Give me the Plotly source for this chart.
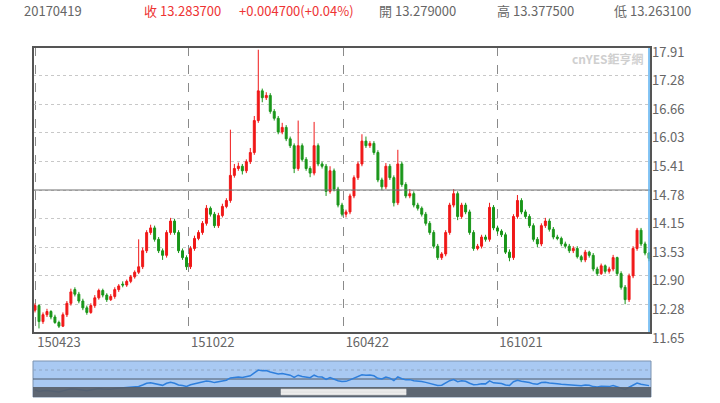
import pandas as pd
import plotly.graph_objects as go

# bar data (one bar ~ every 3 trading days)
bar_open = [12.15, 12.25, 11.9, 12.05, 12.12, 12.0, 11.88, 11.8, 12.05, 12.3, 12.6, 12.5, 12.35, 12.2, 12.1, 12.25, 12.42, 12.58, 12.48, 12.38,
            12.45, 12.6, 12.72, 12.7, 12.78, 12.88, 12.98, 13.1, 13.45, 13.85, 13.95, 13.7, 13.45, 13.35, 13.85, 14.1, 13.85, 13.45, 13.3, 13.1,
            13.5, 13.72, 13.85, 14.05, 14.38, 14.25, 14.0, 14.22, 14.42, 14.55, 15.1, 15.25, 15.3, 15.2, 15.4, 15.6, 16.3, 16.95, 16.8, 16.85,
            16.5, 16.35, 16.05, 16.15, 15.9, 15.75, 15.25, 15.75, 15.45, 15.25, 15.15, 15.75, 15.35, 15.3, 14.75, 15.2, 14.8, 14.45, 14.25, 14.3,
            14.65, 15.05, 15.35, 15.85, 15.75, 15.8, 15.6, 15.0, 14.85, 15.3, 15.05, 14.5, 15.35, 14.9, 14.65, 14.7, 14.45, 14.38, 14.25, 14.05,
            13.85, 13.55, 13.3, 13.38, 13.85, 14.45, 14.7, 14.2, 14.45, 14.3, 13.85, 13.5, 13.55, 13.75, 13.7, 14.4, 13.95, 13.88, 13.8, 13.42,
            13.3, 14.2, 14.55, 14.3, 14.2, 14.0, 13.7, 13.6, 14.0, 14.1, 13.92, 13.75, 13.72, 13.6, 13.55, 13.45, 13.5, 13.32, 13.25, 13.42,
            13.35, 13.05, 12.95, 13.12, 13.0, 13.05, 13.3, 12.95, 12.65, 12.38, 12.9, 13.5, 13.9, 13.6, 13.4]
bar_high = [12.3, 12.28, 12.1, 12.18, 12.15, 12.05, 11.92, 12.1, 12.35, 12.62, 12.65, 12.55, 12.4, 12.25, 12.3, 12.48, 12.62, 12.62, 12.52, 12.5,
            12.65, 12.72, 12.78, 12.82, 12.92, 13.02, 13.7, 13.52, 13.9, 14.02, 14.0, 13.75, 13.5, 13.9, 14.17, 14.15, 13.9, 13.5, 13.35, 13.55,
            13.78, 13.9, 14.1, 14.45, 14.42, 14.3, 14.28, 14.48, 14.6, 16.1, 15.35, 15.38, 15.35, 15.45, 15.7, 16.4, 17.85, 17.0, 16.92, 16.9,
            16.55, 16.4, 16.25, 16.2, 15.95, 15.8, 16.3, 15.8, 15.5, 15.3, 16.27, 15.8, 15.4, 15.35, 15.3, 15.25, 14.85, 14.5, 14.35, 14.7,
            15.1, 15.4, 16.0, 15.95, 15.85, 15.85, 15.65, 15.05, 15.37, 15.35, 15.1, 15.66, 15.4, 14.95, 14.8, 14.75, 14.5, 14.42, 14.3, 14.1,
            13.9, 13.6, 13.42, 13.9, 14.5, 14.8, 14.75, 14.5, 14.5, 14.35, 13.9, 13.6, 13.8, 13.8, 14.5, 14.45, 14.0, 13.92, 13.85, 13.48,
            14.25, 14.67, 14.6, 14.35, 14.25, 14.05, 13.75, 14.05, 14.17, 14.15, 13.97, 13.8, 13.76, 13.65, 13.6, 13.55, 13.55, 13.36, 13.47, 13.45,
            13.4, 13.1, 13.17, 13.15, 13.1, 13.36, 13.32, 13.0, 12.7, 12.95, 13.55, 13.95, 13.95, 13.65, 13.42]
bar_low = [12.1, 11.75, 11.85, 12.0, 11.95, 11.85, 11.76, 11.78, 12.0, 12.25, 12.45, 12.3, 12.15, 12.05, 12.07, 12.2, 12.38, 12.43, 12.33, 12.35,
           12.4, 12.55, 12.65, 12.66, 12.74, 12.84, 12.94, 13.05, 13.4, 13.8, 13.65, 13.4, 13.25, 13.3, 13.8, 13.8, 13.4, 13.25, 13.03, 13.05,
           13.45, 13.68, 13.8, 14.0, 14.2, 13.95, 13.95, 14.18, 14.38, 14.5, 15.05, 15.2, 15.12, 15.15, 15.35, 15.55, 16.25, 16.7, 16.75, 16.45,
           16.3, 16.0, 16.0, 15.85, 15.7, 15.15, 15.2, 15.4, 15.2, 15.06, 15.1, 15.3, 15.25, 14.65, 14.7, 14.75, 14.4, 14.2, 14.18, 14.25,
           14.6, 15.0, 15.3, 15.7, 15.7, 15.55, 14.95, 14.78, 14.8, 15.0, 14.42, 14.45, 14.85, 14.6, 14.6, 14.4, 14.33, 14.2, 14.0, 13.8,
           13.5, 13.25, 13.25, 13.33, 13.8, 14.4, 14.12, 14.15, 14.25, 13.8, 13.45, 13.46, 13.5, 13.65, 13.65, 13.9, 13.82, 13.75, 13.38, 13.22,
           13.25, 14.15, 14.25, 14.15, 13.95, 13.65, 13.53, 13.55, 13.95, 13.87, 13.7, 13.68, 13.55, 13.5, 13.4, 13.4, 13.28, 13.2, 13.2, 13.3,
           13.0, 12.9, 12.92, 12.95, 12.95, 13.0, 12.9, 12.6, 12.28, 12.33, 12.85, 13.45, 13.55, 13.35, 13.22]
bar_close = [12.25, 11.9, 12.05, 12.12, 12.0, 11.88, 11.8, 12.05, 12.3, 12.55, 12.5, 12.35, 12.2, 12.1, 12.25, 12.42, 12.58, 12.48, 12.38, 12.45,
             12.6, 12.68, 12.7, 12.78, 12.88, 12.98, 13.1, 13.45, 13.85, 13.95, 13.7, 13.45, 13.35, 13.85, 14.1, 13.85, 13.45, 13.3, 13.1, 13.5,
             13.72, 13.85, 14.05, 14.38, 14.25, 14.0, 14.22, 14.42, 14.55, 15.1, 15.25, 15.3, 15.2, 15.4, 15.6, 16.3, 16.95, 16.8, 16.85, 16.5,
             16.35, 16.05, 16.15, 15.9, 15.75, 15.25, 15.75, 15.45, 15.25, 15.15, 15.75, 15.35, 15.3, 14.75, 15.2, 14.8, 14.45, 14.25, 14.3, 14.65,
             15.05, 15.35, 15.85, 15.75, 15.8, 15.6, 15.0, 14.85, 15.3, 15.05, 14.5, 15.35, 14.9, 14.65, 14.7, 14.45, 14.38, 14.25, 14.05, 13.85,
             13.55, 13.3, 13.38, 13.85, 14.45, 14.7, 14.2, 14.45, 14.3, 13.85, 13.5, 13.55, 13.75, 13.7, 14.4, 13.95, 13.88, 13.8, 13.42, 13.3,
             14.2, 14.55, 14.3, 14.2, 14.0, 13.7, 13.6, 14.0, 14.1, 13.92, 13.75, 13.72, 13.6, 13.55, 13.45, 13.5, 13.32, 13.25, 13.42, 13.35,
             13.05, 12.95, 13.12, 13.0, 13.05, 13.3, 12.95, 12.65, 12.38, 12.9, 13.5, 13.9, 13.6, 13.4, 13.2837]

first_day, last_day = "2015-04-23", "2017-04-19"
tick_days = ["2015-04-23", "2015-10-22", "2016-04-22", "2016-10-21"]
tick_text = ["150423", "151022", "160422", "161021"]
price_ticks = [11.65, 12.28, 12.90, 13.53, 14.15, 14.78, 15.41, 16.03, 16.66, 17.28, 17.91]

header = [("20170419", "#666666"), ("收 13.283700", "#ee3333"), ("+0.004700(+0.04%)", "#ee3333"),
          ("開 13.279000", "#666666"), ("高 13.377500", "#666666"), ("低 13.263100", "#666666")]
header_x = [22, 142, 237, 377, 495, 612]

dates = pd.date_range(first_day, last_day, periods=len(bar_close))
x_range = ["2015-04-20 15:00", "2017-04-21 08:00"]
FONT = "Noto Sans CJK TC, Noto Sans, sans-serif"

fig = go.Figure()
fig.add_trace(go.Candlestick(
    x=dates, open=bar_open, high=bar_high, low=bar_low, close=bar_close,
    increasing=dict(line=dict(color="#f01818", width=1), fillcolor="#f01818"),
    decreasing=dict(line=dict(color="#1a961a", width=1), fillcolor="#1a961a"),
    whiskerwidth=0, showlegend=False, hoverinfo="skip",
    xaxis="x", yaxis="y",
))
# navigator line
fig.add_trace(go.Scatter(x=dates, y=bar_close, mode="lines", line=dict(color="#2f7fdc", width=1.5),
                         showlegend=False, hoverinfo="skip", xaxis="x2", yaxis="y2"))

fig.update_layout(
    width=720, height=403,
    margin=dict(l=33, r=69, t=47, b=6, autoexpand=False),
    paper_bgcolor="white", plot_bgcolor="white",
    font=dict(family=FONT, size=12, color="#666666"),
    xaxis=dict(domain=[0, 1], range=x_range, type="date", anchor="y", automargin=False,
               tickvals=tick_days, ticktext=tick_text, ticklabelshift=24, ticklabelstandoff=0,
               showgrid=True, gridcolor="#8a8a8a", griddash="dash", gridwidth=1,
               zeroline=False, showline=False, ticks="", rangeslider=dict(visible=False),
               tickfont=dict(size=13, color="#666666")),
    yaxis=dict(domain=[64 / 350, 1], range=[11.65, 17.91], side="right", anchor="x", automargin=False,
               tickvals=price_ticks, ticktext=[f"{v:.2f}" for v in price_ticks], ticklabelshift=5,
               showgrid=True, gridcolor="#c8c8c8", griddash="dot", gridwidth=1,
               zeroline=False, ticks="", tickfont=dict(size=13, color="#666666")),
    xaxis2=dict(domain=[0, 1], range=x_range, type="date", anchor="y2", visible=False, automargin=False),
    yaxis2=dict(domain=[0, 36 / 350], range=[10.6, 19.1], anchor="x2", visible=False, automargin=False),
)

shapes = [
    # navigator background
    dict(type="rect", xref="x2 domain", yref="y2 domain", x0=0, x1=1, y0=0, y1=1,
         fillcolor="#a9c9f2", line=dict(color="#7c93b0", width=1), layer="below"),
    dict(type="line", xref="x2 domain", yref="y2 domain", x0=0, x1=1, y0=0.75, y1=0.75,
         line=dict(color="#8fa6c4", width=1, dash="dot"), layer="below"),
    dict(type="line", xref="x2 domain", yref="y2 domain", x0=0, x1=1, y0=0.5, y1=0.5,
         line=dict(color="#4f5b6b", width=1), layer="below"),
    # scrollbar band
    dict(type="rect", xref="x2 domain", yref="y2 domain", x0=0, x1=1, y0=0, y1=0.28,
         fillcolor="rgba(88,94,104,0.92)", line=dict(width=0), layer="above"),
    dict(type="rect", xref="x2 domain", yref="y2 domain", x0=0.401, x1=0.604, y0=0.05, y1=0.23,
         fillcolor="#d8d8d8", line=dict(width=0), layer="above"),
    # main plot frame and level line
    dict(type="line", xref="x domain", yref="y", x0=0, x1=1, y0=14.78, y1=14.78,
         line=dict(color="#707070", width=1.2)),
    dict(type="line", xref="x domain", yref="y domain", x0=0.9968, x1=0.9968, y0=0, y1=1,
         line=dict(color="#5ab0f0", width=1.5)),
    dict(type="rect", xref="x domain", yref="y domain", x0=0, x1=1, y0=0, y1=1,
         line=dict(color="#555555", width=2)),
]
for yy in [0.09, 0.14, 0.19]:
    shapes.append(dict(type="line", xref="x2 domain", yref="y2 domain", x0=0.401, x1=0.604, y0=yy, y1=yy,
                       line=dict(color="#f4f4f4", width=1), layer="above"))
fig.update_layout(shapes=shapes)

for (txt, col), px in zip(header, header_x):
    fig.add_annotation(text=txt, xref="paper", yref="paper", x=(px - 33) / 618, y=1, yshift=37,
                       xanchor="left", yanchor="middle", showarrow=False,
                       font=dict(family=FONT, size=13, color=col))
fig.add_annotation(text="<b>cnYES鉅亨網</b>", xref="paper", yref="paper", x=(646 - 33) / 618,
                   y=1 - (58 - 47) / 350, xanchor="right", yanchor="middle", showarrow=False,
                   font=dict(family=FONT, size=12, color="#cfcfcf"))

# drop the default page margin so the figure sits at the window corner
fig.write_html("out.html", config={"displayModeBar": False},
               post_script="document.body.style.margin='0';")
